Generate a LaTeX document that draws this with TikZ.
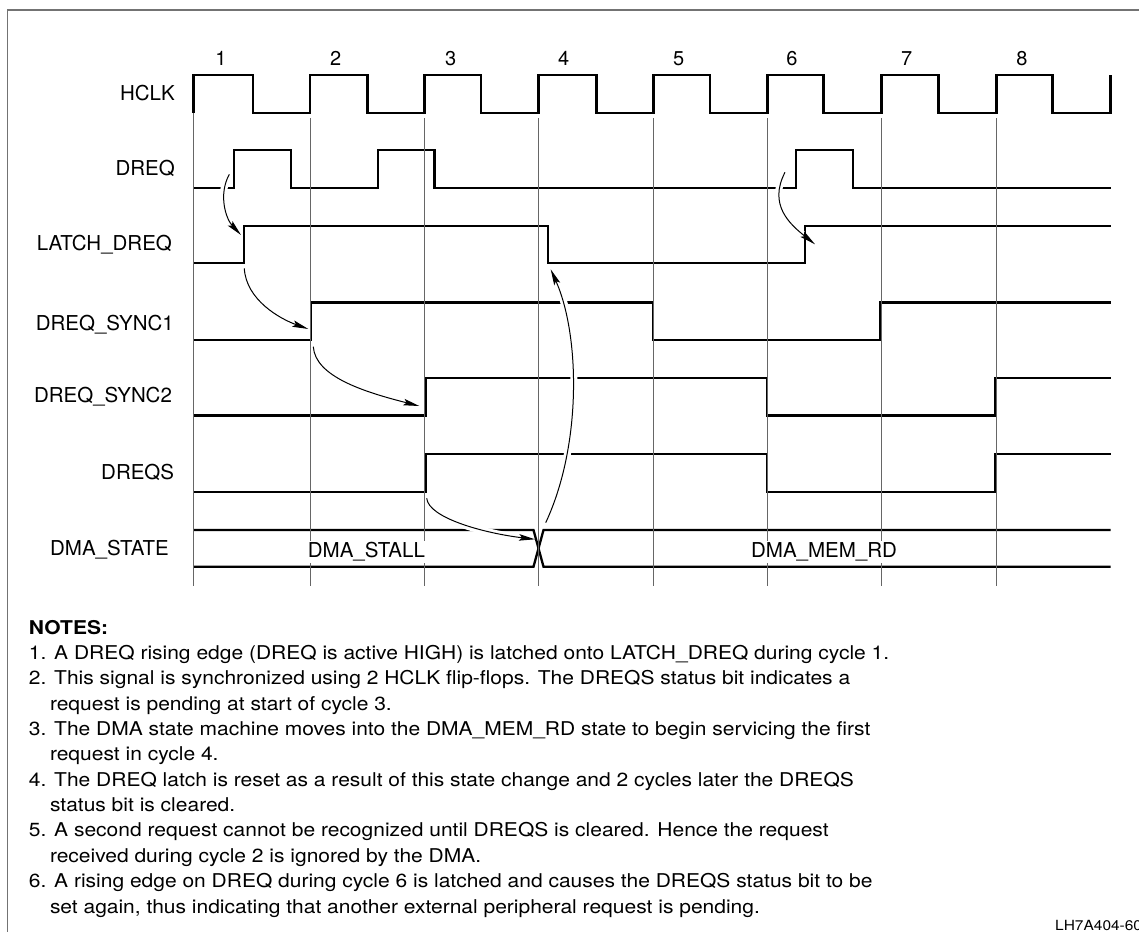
\documentclass[tikz,border=0pt]{standalone}
\usepackage{fontspec}
\setmainfont{TeX Gyre Heros}
\newfontfamily\notefont[FakeStretch=1.105]{TeX Gyre Heros}
\usetikzlibrary{arrows.meta}
\begin{document}
\begin{tikzpicture}[x=1pt,y=-1pt,
  sig/.style={line width=2.3pt,line join=miter,black},
  gridln/.style={line width=0.8pt,black!60},
  frameln/.style={line width=1.2pt,black!55},
  conn/.style={line width=1pt,black,-{Stealth[length=16pt,width=6.5pt,inset=3pt]},
     preaction={draw=white,line width=7pt,arrows=-,shorten >=16pt,shorten <=2pt}},
  rowlbl/.style={anchor=base east,inner sep=0pt,font=\fontsize{20.5}{24}\selectfont},
  cyc/.style={anchor=base,inner sep=0pt,font=\fontsize{20}{24}\selectfont},
  buslbl/.style={anchor=base,inner sep=1.5pt,fill=white,font=\fontsize{20.5}{24}\selectfont},
  noteln/.style={anchor=base west,inner sep=0pt,font=\notefont\fontsize{19}{23}\selectfont},
]
\useasboundingbox (0,0) rectangle (1139,931);
% frame (cut by page edge)
\draw[frameln] (7.5,945) -- (7.5,10) -- (1150,10);

% cycle numbers
\node[cyc] (c1) at (221,65.5) {1};
\node[cyc] (c2) at (335.7,65.5) {2};
\node[cyc] (c3) at (450.7,65.5) {3};
\node[cyc] (c4) at (563.7,65.5) {4};
\node[cyc] (c5) at (678.7,65.5) {5};
\node[cyc] (c6) at (792,65.5) {6};
\node[cyc] (c7) at (906.7,65.5) {7};
\node[cyc] (c8) at (1022,65.5) {8};

% row labels
\node[rowlbl] (lhclk) at (175,100) {HCLK};
\node[rowlbl] (ldreq) at (175,175.5) {DREQ};
\node[rowlbl] (llatch) at (172.1,250) {LATCH\_DREQ};
\node[rowlbl] (lsync1) at (173.9,330) {DREQ\_SYNC1};
\node[rowlbl] (lsync2) at (172.1,402.3) {DREQ\_SYNC2};
\node[rowlbl] (ldreqs) at (174.3,479.3) {DREQS};
\node[rowlbl] (lstate) at (168.9,555.7) {DMA\_STATE};

% HCLK
\draw[sig] (193.5,113)--(193.5,75)--(253,75)--(253,113)--(310,113)--(310,75)--(367.5,75)--(367.5,113)
  --(424.5,113)--(424.5,75)--(481,75)--(481,113)--(538.5,113)--(538.5,75)--(596.5,75)--(596.5,113)
  --(653.5,113)--(653.5,75)--(710,75)--(710,113)--(767.5,113)--(767.5,75)--(823.5,75)--(823.5,113)
  --(881.5,113)--(881.5,75)--(938.5,75)--(938.5,113)--(996.5,113)--(996.5,75)--(1052.5,75)--(1052.5,113)
  --(1110.5,113)--(1110.5,75);
% DREQ
\draw[sig] (193.5,188.3)--(234.3,188.3)--(234.3,150)--(291,150)--(291,188.3)--(378,188.3)--(378,150)
  --(434.6,150)--(434.6,188.3)--(795.7,188.3)--(795.7,150)--(853.3,150)--(853.3,188.3)--(1110.5,188.3);
% LATCH_DREQ
\draw[sig] (193.5,263.3)--(244.3,263.3)--(244.3,226)--(547.7,226)--(547.7,263.3)--(805.3,263.3)
  --(805.3,226)--(1110.5,226);
% DREQ_SYNC1
\draw[sig] (193.5,340)--(311,340)--(311,302.5)--(652.7,302.5)--(652.7,340)--(880,340)--(880,302.5)--(1110.5,302.5);
% DREQ_SYNC2
\draw[sig] (193.5,415.5)--(426,415.5)--(426,378.3)--(767,378.3)--(767,415.5)--(995,415.5)--(995,378.3)--(1110.5,378.3);
% DREQS
\draw[sig] (193.5,491.8)--(426,491.8)--(426,454.3)--(767,454.3)--(767,491.8)--(995,491.8)--(995,454.3)--(1110.5,454.3);
% DMA_STATE bus
\draw[sig] (193.5,530)--(533.5,530)--(543.5,566.7)--(1110.5,566.7);
\draw[sig] (193.5,566.7)--(533.5,566.7)--(543.5,530)--(1110.5,530);

% arrow end points
\coordinate (a1s) at (229.3,174.3);  \coordinate (a1e) at (241,235);
\coordinate (a2s) at (785,172.3);    \coordinate (a2e) at (815,244.3);
\coordinate (a3s) at (244.3,268.3);  \coordinate (a3e) at (308.3,329);
\coordinate (a4s) at (313.3,346.7);  \coordinate (a4e) at (419.3,406);
\coordinate (a5s) at (426.7,498.3);  \coordinate (a5e) at (535,539.3);
\coordinate (a6s) at (545.7,522.7);  \coordinate (a6e) at (550.7,269.3);

\draw[conn] (a1s) .. controls +(-11.3,20.7) and +(-15,-16) .. (a1e);
\draw[conn] (a2s) .. controls +(-17,32.7) and +(-25,-20) .. (a2e);
\draw[conn] (a3s) .. controls +(1.7,31.7) and +(-28,-10) .. (a3e);
\draw[conn] (a4s) .. controls +(2,30) and +(-55,-14) .. (a4e);
\draw[conn] (a5s) .. controls +(2,20) and +(-50,-6) .. (a5e);
\draw[conn] (a6s) .. controls +(36.3,-77.7) and +(29.3,65.7) .. (a6e);

% grid lines
\draw[gridln] (193.5,113) -- (193.5,586);
\foreach \gx in {310,424.5,538.5,653.5,767.5,881.5,996.5}
  \draw[gridln] (\gx,118) -- (\gx,586);

% bus values
\node[buslbl] (stall) at (366.4,557.5) {DMA\_STALL};
\node[buslbl] (memrd) at (824,557.5) {DMA\_MEM\_RD};

% notes
\node[anchor=base west,inner sep=0pt,font=\notefont\bfseries\fontsize{19}{23}\selectfont] (notes) at (28.7,634) {NOTES:};
\node[noteln] (n1) at (28.7,659.5) {1. A DREQ rising edge (DREQ is active HIGH) is latched onto LATCH\_DREQ during cycle 1.};
\node[noteln] (n2) at (28.7,684.85) {2. This signal is synchronized using 2 HCLK flip-flops. The DREQS status bit indicates a};
\node[noteln] (n2b) at (49.8,710.2) {request is pending at start of cycle 3.};
\node[noteln] (n3) at (28.7,735.55) {3. The DMA state machine moves into the DMA\_MEM\_RD state to begin servicing the first};
\node[noteln] (n3b) at (49.8,760.9) {request in cycle 4.};
\node[noteln] (n4) at (28.7,786.25) {4. The DREQ latch is reset as a result of this state change and 2 cycles later the DREQS};
\node[noteln] (n4b) at (49.8,811.6) {status bit is cleared.};
\node[noteln] (n5) at (28.7,836.95) {5. A second request cannot be recognized until DREQS is cleared. Hence the request};
\node[noteln] (n5b) at (49.8,862.3) {received during cycle 2 is ignored by the DMA.};
\node[noteln] (n6) at (28.7,887.65) {6. A rising edge on DREQ during cycle 6 is latched and causes the DREQS status bit to be};
\node[noteln] (n6b) at (49.8,913) {set again, thus indicating that another external peripheral request is pending.};

\node[anchor=base west,inner sep=0pt,font=\notefont\fontsize{14}{16}\selectfont] (fig) at (1055,930.5) {LH7A404-60};
\end{tikzpicture}
\end{document}
